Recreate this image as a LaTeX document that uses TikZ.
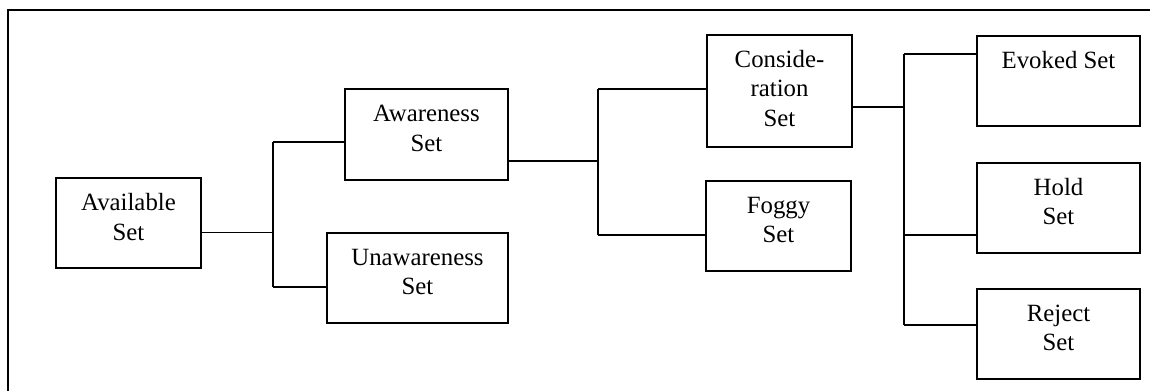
\documentclass[tikz,border=0pt]{standalone}
\usepackage{fontspec}
\setmainfont{Liberation Serif}
\begin{document}
\begin{tikzpicture}[x=1pt,y=-1pt,
  line width=1.8pt,
  setbox/.style={draw, rectangle, inner sep=0pt},
  lbl/.style={anchor=north, inner sep=0pt, align=center,
    font=\fontsize{24.8}{29.5}\selectfont},
  link/.style={draw, line width=1.8pt}]
\useasboundingbox (0,0) rectangle (1150,391);

% outer frame (top and left edges)
\draw (1150,10) -- (8,10) -- (8,391);

% boxes
\node[setbox, minimum width=145pt, minimum height=90pt]  (av) at (128.5,223) {};
\node[setbox, minimum width=163pt, minimum height=91pt]  (aw) at (426.5,134.5) {};
\node[setbox, minimum width=181pt, minimum height=90pt]  (un) at (417.5,278) {};
\node[setbox, minimum width=145pt, minimum height=112pt] (co) at (779.5,91) {};
\node[setbox, minimum width=145pt, minimum height=90pt]  (fo) at (778.5,226) {};
\node[setbox, minimum width=163pt, minimum height=90pt]  (ev) at (1058.5,81) {};
\node[setbox, minimum width=163pt, minimum height=90pt]  (ho) at (1058.5,208) {};
\node[setbox, minimum width=163pt, minimum height=90pt]  (re) at (1058.5,334) {};

% labels, set from the top of each box
\node[lbl] (avt) at ([yshift=-12pt]av.north) {\strut Available\\Set};
\node[lbl] (awt) at ([yshift=-12pt]aw.north) {\strut Awareness\\Set};
\node[lbl] (unt) at ([yshift=-11.5pt]un.north) {\strut Unawareness\\Set};
\node[lbl] (cot) at ([yshift=-11.5pt]co.north) {\strut Conside-\\ration\\Set};
\node[lbl] (fot) at ([yshift=-11.5pt]fo.north) {\strut Foggy\\Set};
\node[lbl] (evt) at ([yshift=-12pt]ev.north) {\strut Evoked Set};
\node[lbl] (hot) at ([yshift=-11.5pt]ho.north) {\strut Hold\\Set};
\node[lbl] (ret) at ([yshift=-11.5pt]re.north) {\strut Reject\\Set};

% branch points
\coordinate (j1)  at (273,232.5);
\coordinate (j1a) at (273,142.3);
\coordinate (j1b) at (273,286.7);
\coordinate (j2)  at (598,160.7);
\coordinate (j2a) at (598,89.3);
\coordinate (j2b) at (598,235);
\coordinate (j3)  at (904.3,107);
\coordinate (j3a) at (904.3,53.7);
\coordinate (j3b) at (904.3,235);
\coordinate (j3c) at (904.3,325);

% Available -> Awareness / Unawareness
\path[link] (av.east |- j1) -- (j1);
\path[link] (j1a) -- (j1b);
\path[link] (j1a) -- (aw.west |- j1a);
\path[link] (j1b) -- (un.west |- j1b);

% Awareness -> Consideration / Foggy
\path[link] (aw.east |- j2) -- (j2);
\path[link] (j2a) -- (j2b);
\path[link] (j2a) -- (co.west |- j2a);
\path[link] (j2b) -- (fo.west |- j2b);

% Consideration -> Evoked / Hold / Reject
\path[link] (co.east |- j3) -- (j3);
\path[link] (j3a) -- (j3c);
\path[link] (j3a) -- (ev.west |- j3a);
\path[link] (j3b) -- (ho.west |- j3b);
\path[link] (j3c) -- (re.west |- j3c);
\end{tikzpicture}
\end{document}
